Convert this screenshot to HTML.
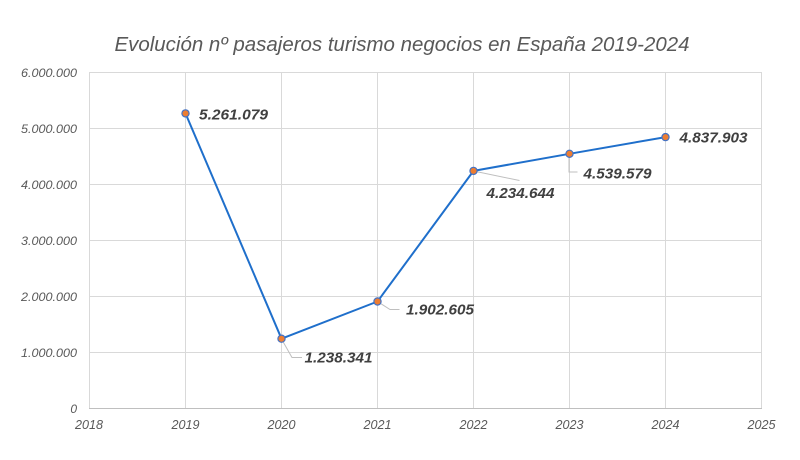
<!DOCTYPE html>
<html><head><meta charset="utf-8"><style>
html,body{margin:0;padding:0;background:#fff;}
svg{display:block;}
text{font-family:"Liberation Sans",sans-serif;font-style:italic;}
</style></head><body>
<svg width="800" height="460" viewBox="0 0 800 460" xmlns="http://www.w3.org/2000/svg">
<rect width="800" height="460" fill="#fff"/>
<text x="402" y="51" text-anchor="middle" font-size="20" fill="#595959" textLength="575" lengthAdjust="spacingAndGlyphs">Evolución nº pasajeros turismo negocios en España 2019-2024</text>
<g stroke="#D9D9D9" stroke-width="1">
<line x1="89" y1="72.5" x2="762" y2="72.5"/>
<line x1="89" y1="128.5" x2="762" y2="128.5"/>
<line x1="89" y1="184.5" x2="762" y2="184.5"/>
<line x1="89" y1="240.5" x2="762" y2="240.5"/>
<line x1="89" y1="296.5" x2="762" y2="296.5"/>
<line x1="89" y1="352.5" x2="762" y2="352.5"/>
<line x1="89.5" y1="72" x2="89.5" y2="408"/>
<line x1="185.5" y1="72" x2="185.5" y2="408"/>
<line x1="281.5" y1="72" x2="281.5" y2="408"/>
<line x1="377.5" y1="72" x2="377.5" y2="408"/>
<line x1="473.5" y1="72" x2="473.5" y2="408"/>
<line x1="569.5" y1="72" x2="569.5" y2="408"/>
<line x1="665.5" y1="72" x2="665.5" y2="408"/>
<line x1="761.5" y1="72" x2="761.5" y2="408"/>
</g>
<line x1="89" y1="408.5" x2="762" y2="408.5" stroke="#BFBFBF" stroke-width="1"/>
<g font-size="12" fill="#595959" text-anchor="end">
<text x="77" y="77" textLength="56" lengthAdjust="spacingAndGlyphs">6.000.000</text>
<text x="77" y="133" textLength="56" lengthAdjust="spacingAndGlyphs">5.000.000</text>
<text x="77" y="189" textLength="56" lengthAdjust="spacingAndGlyphs">4.000.000</text>
<text x="77" y="245" textLength="56" lengthAdjust="spacingAndGlyphs">3.000.000</text>
<text x="77" y="301" textLength="56" lengthAdjust="spacingAndGlyphs">2.000.000</text>
<text x="77" y="357" textLength="56" lengthAdjust="spacingAndGlyphs">1.000.000</text>
<text x="77" y="413">0</text>
</g>
<g font-size="12.5" fill="#595959" text-anchor="middle">
<text x="89" y="429" textLength="28" lengthAdjust="spacingAndGlyphs">2018</text>
<text x="185.5" y="429" textLength="28" lengthAdjust="spacingAndGlyphs">2019</text>
<text x="281.5" y="429" textLength="28" lengthAdjust="spacingAndGlyphs">2020</text>
<text x="377.5" y="429" textLength="28" lengthAdjust="spacingAndGlyphs">2021</text>
<text x="473.5" y="429" textLength="28" lengthAdjust="spacingAndGlyphs">2022</text>
<text x="569.5" y="429" textLength="28" lengthAdjust="spacingAndGlyphs">2023</text>
<text x="665.5" y="429" textLength="28" lengthAdjust="spacingAndGlyphs">2024</text>
<text x="761.5" y="429" textLength="28" lengthAdjust="spacingAndGlyphs">2025</text>
</g>
<g stroke="#BFBFBF" stroke-width="1" fill="none">
<polyline points="281.5,339 292,357.5 302,357.5"/>
<polyline points="377.5,301.5 390,309.5 399.5,309.5"/>
<line x1="473.5" y1="171" x2="519.5" y2="180.5"/>
<polyline points="569,154 569,172 577.5,172"/>
</g>
<polyline points="185.5,113.4 281.5,338.7 377.5,301.5 473.5,170.9 569.5,153.8 665.5,137.1" fill="none" stroke="#1F6FCB" stroke-width="2" stroke-linejoin="round"/>
<g fill="#ED7D31" stroke="#4472C4" stroke-width="1.2">
<circle cx="185.5" cy="113.4" r="3.6"/>
<circle cx="281.5" cy="338.7" r="3.6"/>
<circle cx="377.5" cy="301.5" r="3.6"/>
<circle cx="473.5" cy="170.9" r="3.6"/>
<circle cx="569.5" cy="153.8" r="3.6"/>
<circle cx="665.5" cy="137.1" r="3.6"/>
</g>
<g font-size="15" fill="#404040" font-weight="bold">
<text x="199" y="119.5" textLength="69" lengthAdjust="spacingAndGlyphs">5.261.079</text>
<text x="304.5" y="362.5" textLength="68" lengthAdjust="spacingAndGlyphs">1.238.341</text>
<text x="406" y="314.5" textLength="68" lengthAdjust="spacingAndGlyphs">1.902.605</text>
<text x="486.5" y="198" textLength="68" lengthAdjust="spacingAndGlyphs">4.234.644</text>
<text x="583.5" y="178.5" textLength="68" lengthAdjust="spacingAndGlyphs">4.539.579</text>
<text x="679.5" y="142.5" textLength="68" lengthAdjust="spacingAndGlyphs">4.837.903</text>
</g>
</svg>
</body></html>
